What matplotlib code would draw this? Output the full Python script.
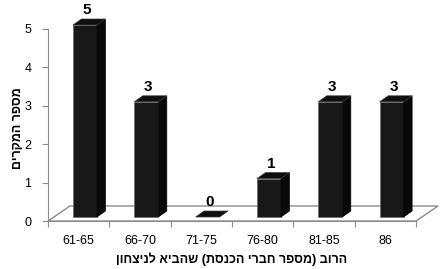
import matplotlib
matplotlib.use('Agg')
import matplotlib.pyplot as plt
from matplotlib.patches import Polygon

plt.rcParams['font.family'] = ['Liberation Sans', 'DejaVu Sans']

# data
categories = ['61-65', '66-70', '71-75', '76-80', '81-85', '86']
counts = [5, 3, 0, 1, 3, 3]
xlabel = 'הרוב (מספר חברי הכנסת) שהביא לניצחון'
ylabel = 'מספר המקרים'


def visual(s):
    # simple RTL -> visual order, with mirrored parentheses
    s = s[::-1]
    return s.translate(str.maketrans('()', ')('))


fig = plt.figure(figsize=(4.47, 2.69), dpi=100)
W, H = 447, 269
left, right, bottom, top = 48, 416, 221, 29
ax = fig.add_axes([left / W, (H - bottom) / H, (right - left) / W, (bottom - top) / H])
ax.set_xlim(-0.5, len(categories) - 0.5)
ax.set_ylim(0, 5)

ux = (right - left) / len(categories)   # px per x unit
uy = (bottom - top) / 5.0               # px per y unit

# floor (3d base)
fdx, fdy = 22 / ux, 15 / uy
floor = Polygon([(-0.5, 0), (5.5, 0), (5.5 + fdx, fdy), (-0.5 + fdx, fdy)],
                closed=True, facecolor='white', edgecolor='#8c8c8c', lw=1, clip_on=False, zorder=1)
ax.add_patch(floor)

# bars with fake depth
bw = 24 / ux
shx, shy = 6.3 / ux, 4 / uy
ddx, ddy = 8.5 / ux, 6 / uy
for i, v in enumerate(counts):
    xl = i + shx - bw / 2
    xr = xl + bw
    y0 = shy
    y1 = y0 + v
    front = Polygon([(xl, y0), (xr, y0), (xr, y1), (xl, y1)], closed=True,
                    facecolor='#181818', edgecolor='#6a6a6a', lw=0.5, clip_on=False, zorder=3)
    side = Polygon([(xr, y0), (xr + ddx, y0 + ddy), (xr + ddx, y1 + ddy), (xr, y1)], closed=True,
                   facecolor='#080808', edgecolor='#080808', lw=0.5, clip_on=False, zorder=3)
    topf = Polygon([(xl, y1), (xl + ddx, y1 + ddy), (xr + ddx, y1 + ddy), (xr, y1)], closed=True,
                   facecolor='#0e0e0e', edgecolor='#3a3a3a', lw=0.5, clip_on=False, zorder=4)
    if v > 0:
        ax.add_patch(front)
        ax.add_patch(side)
    ax.add_patch(topf)
    ax.text(i + shx + 2 / ux, y1 + ddy + 2 / uy, str(v), ha='center', va='bottom',
            fontsize=11, fontweight='bold', clip_on=False)

# axes styling
for s in ['top', 'right']:
    ax.spines[s].set_visible(False)
ax.spines['left'].set_color('#8c8c8c')
ax.spines['bottom'].set_color('#8c8c8c')
ax.set_yticks(range(0, 6))
ax.set_xticks([i - 0.5 for i in range(len(categories) + 1)])
ax.set_xticklabels([])
ax.set_xticks(range(len(categories)), minor=True)
ax.set_xticklabels(categories, minor=True)
ax.tick_params(axis='x', which='major', length=4, color='#8c8c8c', direction='out')
ax.tick_params(axis='x', which='minor', length=0, pad=10, labelsize=9)
ax.tick_params(axis='y', length=4, color='#8c8c8c', labelsize=9, pad=8)

fig.text(232 / W, (H - 259) / H, visual(xlabel), ha='center', va='center',
         fontsize=9, fontweight='bold')
fig.text(18 / W, (H - 128) / H, visual(ylabel), ha='center', va='center',
         rotation=90, fontsize=9, fontweight='bold')

fig.savefig('out.png', dpi=100)
